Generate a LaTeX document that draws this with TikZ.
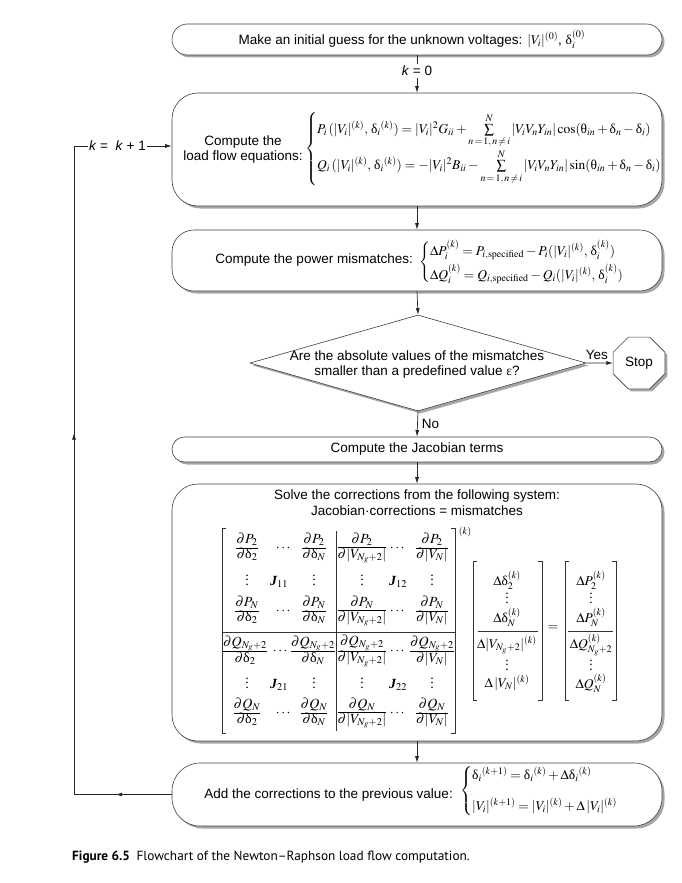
\documentclass[tikz,border=0pt]{standalone}
\usepackage{amsmath}
\usepackage{mathptmx}
\usepackage[no-math]{fontspec}
\setmainfont{Liberation Sans}
\newfontfamily\serifJ{Liberation Serif}
\newfontfamily\capfont{PT Sans}
\usetikzlibrary{shapes.geometric,shadows,arrows.meta,decorations.markings}
\newcommand{\gk}[1]{\text{\serifJ #1}}
\newcommand{\dl}{\gk{δ}}
\newcommand{\pdfr}[2]{\renewcommand{\arraystretch}{0.88}\begin{array}{@{}c@{}}\partial #1\\\hline \partial #2\end{array}}
\newcommand{\Jb}[1]{{\serifJ\bfseries\itshape J}$_{#1}$}
\newcommand{\vd}{{\serifJ\vbox{\baselineskip=4.5pt\lineskiplimit=-10pt\hbox{.}\hbox{.}\hbox{.}}}}
\tikzset{
  shad/.style={drop shadow={shadow xshift=2.5pt,shadow yshift=-2.5pt,fill=black!35,opacity=1}},
  boxshape/.style={draw=black!75,line width=0.6pt,fill=white,shad,minimum width=490pt,inner sep=0pt},
  txt/.style={font=\fontsize{13.5}{15}\selectfont,inner sep=0pt,align=center},
  mth/.style={font=\fontsize{13.5}{15}\selectfont,inner sep=0pt},
  mtx/.style={font=\fontsize{14}{16}\selectfont,inner sep=0pt},
  conn/.style={draw=black!85,line width=0.7pt},
  tip/.tip={Latex[length=6.5pt,width=4pt]},
  arr/.style={conn,-tip},
  brk/.style={draw=black!80,line width=0.6pt},
}
\begin{document}
\begin{tikzpicture}[x=1pt,y=-1pt]
\useasboundingbox (0,0) rectangle (681,883);
% boxes
\node[boxshape,minimum height=31pt,rounded corners=15.5pt] (b1) at (417,39.5) {};
\node[boxshape,minimum height=113pt,rounded corners=26pt] (b2) at (417,149.5) {};
\node[boxshape,minimum height=61pt,rounded corners=22pt] (b3) at (417,260.5) {};
\node[draw=black!75,line width=0.6pt,fill=white,shad,diamond,minimum width=336pt,minimum height=96pt,inner sep=0pt] (dia) at (418,363) {};
\node[draw=black!75,line width=0.6pt,fill=white,shad,regular polygon,regular polygon sides=8,minimum size=56pt,inner sep=0pt,font=\fontsize{13.5}{15}\selectfont] (stop) at (639,363) {Stop};
\node[boxshape,minimum height=25pt,rounded corners=12.5pt] (b4) at (417,449.5) {};
\node[boxshape,minimum height=257pt,rounded corners=26pt] (b5) at (417,612.5) {};
\node[boxshape,minimum height=63pt,rounded corners=28pt] (b6) at (417,794.5) {};
% texts
\node[txt] (t1) at (412,39.5) {Make an initial guess for the unknown voltages: $|V_i|^{(0)}$, $\dl_i^{(0)}$};
\node[txt] (t2) at (243,150) {Compute the\\load flow equations:};
\node[mth,anchor=west] (e2) at (305,149) {$\left\{\begin{array}{@{}l@{}}
P_i\,(|V_i|^{(k)},\,\dl_i{}^{(k)}) = |V_i|^2 G_{ii} + \sum\limits_{n\,=\,1,\,n\,\neq\,i}^{N} |V_iV_nY_{in}|\cos(\gk{θ}_{in}+\dl_n-\dl_i)\\[12pt]
Q_i\,(|V_i|^{(k)},\,\dl_i{}^{(k)}) = -|V_i|^2 B_{ii} - \sum\limits_{n\,=\,1,\,n\,\neq\,i}^{N} |V_iV_nY_{in}|\sin(\gk{θ}_{in}+\dl_n-\dl_i)
\end{array}\right.$};
\node[txt,anchor=east] (t3) at (413,260) {Compute the power mismatches:};
\node[mth,anchor=west] (e3) at (419,262) {$\left\{\begin{array}{@{}l@{}}
\Delta P_i^{(k)} = P_{i,\mathrm{specified}} - P_i(|V_i|^{(k)},\,\dl_i^{(k)})\\[5pt]
\Delta Q_i^{(k)} = Q_{i,\mathrm{specified}} - Q_i(|V_i|^{(k)},\,\dl_i^{(k)})
\end{array}\right.$};
\node[txt] (t4a) at (417,356) {Are the absolute values of the mismatches};
\node[txt] (t4b) at (417,372) {smaller than a predefined value \gk{ε}?};
\node[txt] (t5) at (417,449.5) {Compute the Jacobian terms};
\node[txt] (t6a) at (417,496) {Solve the corrections from the following system:};
\node[txt] (t6b) at (417,511) {Jacobian·corrections = mismatches};
% Jacobian matrix
\draw[brk] (226,528) -- (222,528) -- (222,733) -- (226,733);
\draw[brk] (451,528) -- (455,528) -- (455,733) -- (451,733);
\draw[brk] (336,531) -- (336,731);
\draw[brk] (222,632) -- (455,632);
\node[mth] (jk) at (465,532) {$\scriptstyle (k)$};
% row 1
\node[mtx] (m11) at (247,548) {$\pdfr{P_2}{\dl_2}$};
\node[mtx] (m12) at (284,548) {$\cdots$};
\node[mtx] (m13) at (314,548) {$\pdfr{P_2}{\dl_N}$};
\node[mtx] (m14) at (362,548) {$\pdfr{P_2}{|V_{N_g+2}|}$};
\node[mtx] (m15) at (398,548) {$\cdots$};
\node[mtx] (m16) at (432,548) {$\pdfr{P_2}{|V_N|}$};
% row 2
\node[mtx] (m21) at (247,580) {\vd};
\node[mtx] (m22) at (279,582) {\Jb{11}};
\node[mtx] (m23) at (314,580) {\vd};
\node[mtx] (m24) at (362,580) {\vd};
\node[mtx] (m25) at (398,582) {\Jb{12}};
\node[mtx] (m26) at (432,580) {\vd};
% row 3
\node[mtx] (m31) at (247,611) {$\pdfr{P_N}{\dl_2}$};
\node[mtx] (m32) at (284,611) {$\cdots$};
\node[mtx] (m33) at (314,611) {$\pdfr{P_N}{\dl_N}$};
\node[mtx] (m34) at (362,611) {$\pdfr{P_N}{|V_{N_g+2}|}$};
\node[mtx] (m35) at (398,611) {$\cdots$};
\node[mtx] (m36) at (432,611) {$\pdfr{P_N}{|V_N|}$};
% row 4
\node[mtx] (m41) at (245,651) {$\pdfr{Q_{N_g+2}}{\dl_2}$};
\node[mtx] (m42) at (281,651) {$\cdots$};
\node[mtx] (m43) at (313,651) {$\pdfr{Q_{N_g+2}}{\dl_N}$};
\node[mtx] (m44) at (362,651) {$\pdfr{Q_{N_g+2}}{|V_{N_g+2}|}$};
\node[mtx] (m45) at (398,651) {$\cdots$};
\node[mtx] (m46) at (432,651) {$\pdfr{Q_{N_g+2}}{|V_N|}$};
% row 5
\node[mtx] (m51) at (247,683) {\vd};
\node[mtx] (m52) at (279,685) {\Jb{21}};
\node[mtx] (m53) at (314,683) {\vd};
\node[mtx] (m54) at (362,683) {\vd};
\node[mtx] (m55) at (398,685) {\Jb{22}};
\node[mtx] (m56) at (432,683) {\vd};
% row 6
\node[mtx] (m61) at (247,713) {$\pdfr{Q_N}{\dl_2}$};
\node[mtx] (m62) at (284,713) {$\cdots$};
\node[mtx] (m63) at (314,713) {$\pdfr{Q_N}{\dl_N}$};
\node[mtx] (m64) at (362,713) {$\pdfr{Q_N}{|V_{N_g+2}|}$};
\node[mtx] (m65) at (398,713) {$\cdots$};
\node[mtx] (m66) at (432,713) {$\pdfr{Q_N}{|V_N|}$};
% vectors
\draw[brk] (477,561) -- (473,561) -- (473,700) -- (477,700);
\draw[brk] (538,561) -- (542,561) -- (542,700) -- (538,700);
\draw[brk] (478,631) -- (538,631);
\draw[brk] (569,561) -- (565,561) -- (565,700) -- (569,700);
\draw[brk] (612,561) -- (616,561) -- (616,700) -- (612,700);
\draw[brk] (568,631) -- (613,631);
\node[mth] (eq) at (553,628) {$=$};
\node[mth] (x1) at (507,580) {$\Delta\dl_2^{(k)}$};
\node[mth] (x2) at (507,598) {\vd};
\node[mth] (x3) at (507,617) {$\Delta\dl_N^{(k)}$};
\node[mth] (x4) at (507,645) {$\Delta|V_{N_g+2}|^{(k)}$};
\node[mth] (x5) at (507,665) {\vd};
\node[mth] (x6) at (507,683) {$\Delta\,|V_N|^{(k)}$};
\node[mth] (y1) at (591,580) {$\Delta P_2^{(k)}$};
\node[mth] (y2) at (591,598) {\vd};
\node[mth] (y3) at (591,617) {$\Delta P_N^{(k)}$};
\node[mth] (y4) at (591,645) {$\Delta Q_{N_g+2}^{(k)}$};
\node[mth] (y5) at (591,665) {\vd};
\node[mth] (y6) at (591,683) {$\Delta Q_N^{(k)}$};
% last box
\node[txt,anchor=east] (t7) at (453,795) {Add the corrections to the previous value:};
\node[mth,anchor=west] (e7) at (460,791) {$\left\{\begin{array}{@{}l@{}}
\dl_i{}^{(k+1)} = \dl_i{}^{(k)} + \Delta\dl_i{}^{(k)}\\[14pt]
|V_i|^{(k+1)} = |V_i|^{(k)} + \Delta\,|V_i|^{(k)}
\end{array}\right.$};
% connectors
\draw[arr] (b1.south) -- node[pos=0.42,fill=white,txt,inner sep=2pt] (k0) {\textit{k} = 0} (b2.north);
\draw[arr] (b2.south) -- (b3.north);
\draw[arr] (b3.south) -- (dia.north);
\draw[arr] (dia.south) -- node[right=4pt,txt] (no) {No} (b4.north);
\draw[arr] (dia.east) -- node[pos=0.4,above=3pt,txt] (yes) {Yes} (stop.west);
\draw[arr] (b4.south) -- (b5.north);
\draw[arr] (b5.south) -- (b6.north);
\coordinate (fbL) at (74,794.5);
\coordinate (fbT) at (74,146);
\draw[arr,postaction={decorate},decoration={markings,
  mark=at position 56pt with {\arrow{tip}},
  mark=at position 459pt with {\arrow{tip}}}]
  (b6.west) -- (fbL) -- (fbT) -- (b2.west |- fbT);
\node[txt,fill=white,inner sep=1.5pt] (kk) at (117.5,146) {\textit{k} = \ \textit{k} + 1};
% caption
\node[anchor=base west,inner sep=0pt,font=\capfont\fontsize{13.3}{15}\selectfont] (cap) at (72,860) {\textbf{Figure 6.5}\enspace Flowchart of the Newton–Raphson load flow computation.};
\end{tikzpicture}
\end{document}
